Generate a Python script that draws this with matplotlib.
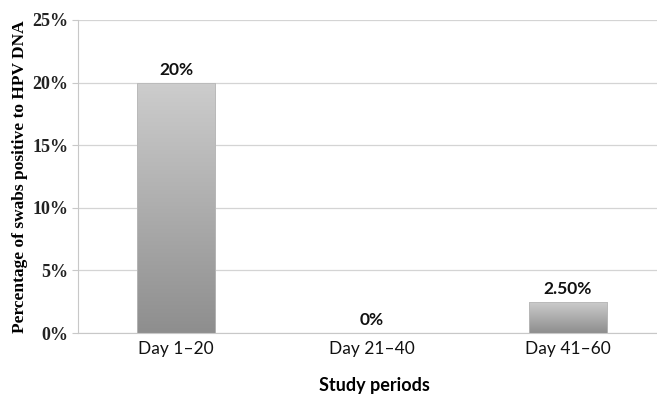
import numpy as np
import matplotlib.pyplot as plt
from matplotlib.colors import LinearSegmentedColormap

periods = ['Day 1\u201320', 'Day 21\u201340', 'Day 41\u201360']
values = [20, 0, 2.5]
labels = ['20%', '0%', '2.50%']
yticks = [0, 5, 10, 15, 20, 25]

fig = plt.figure(figsize=(6.57, 3.94), dpi=100)
ax = fig.add_axes([78 / 657, 61 / 394, 588 / 657, 313 / 394])

x = np.arange(len(periods))
bars = ax.bar(x, values, width=0.4, color='none', edgecolor='#b8b8b8', linewidth=0.6, zorder=3)

# vertical grey gradient inside each bar, lighter at the top
cmap = LinearSegmentedColormap.from_list('g', ['#8e8e8e', '#cdcdcd'])
grad = np.linspace(0, 1, 256).reshape(-1, 1)
for b in bars:
    if b.get_height() <= 0:
        continue
    x0, y0 = b.get_x(), b.get_y()
    im = ax.imshow(grad, cmap=cmap, origin='lower', aspect='auto',
                   extent=[x0, x0 + b.get_width(), y0, y0 + b.get_height()], zorder=2)
    im.set_clip_path(b)

for xi, v, lab in zip(x, values, labels):
    ax.text(xi, v + 0.4, lab, ha='center', va='bottom', fontsize=12.5,
            family='Lato', fontweight='bold', color='#111111')

ax.set_xlim(-0.5, 2.5)
ax.set_ylim(0, 25)
ax.set_yticks(yticks)
ax.set_yticklabels(['%d%%' % t for t in yticks], family='Liberation Serif',
                   fontweight='bold', fontsize=13, color='#222222')
ax.set_xticks(x)
ax.set_xticklabels(periods, family='Lato', fontsize=12.5, color='#111111')
ax.tick_params(axis='x', length=0, pad=6)
ax.tick_params(axis='y', length=4, color='#c8c8c8', pad=3)

ax.grid(axis='y', color='#d4d4d4', linewidth=0.9, zorder=0)
ax.set_axisbelow(True)
for s in ['top', 'right']:
    ax.spines[s].set_visible(False)
ax.spines['left'].set_color('#c8c8c8')
ax.spines['bottom'].set_color('#c8c8c8')

ax.set_ylabel('Percentage of swabs positive to HPV DNA', family='Liberation Serif',
              fontweight='bold', fontsize=12.5, labelpad=3)
fig.text(374 / 657, 1 - 386 / 394, 'Study periods', ha='center', va='center',
         family='Lato', fontweight='bold', fontsize=13)

fig.savefig('out.png', dpi=100)
